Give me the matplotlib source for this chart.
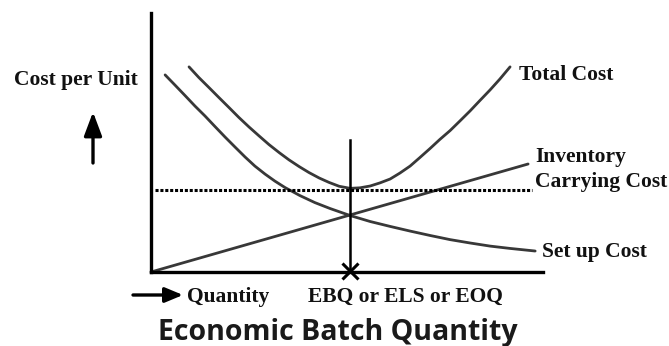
import matplotlib.pyplot as plt
from matplotlib.patches import FancyArrowPatch

# cost curves on a 0-100 quantity / cost scale (schematic)
setup_q = [3.6, 6.1, 8.7, 11.2, 13.8, 16.3, 18.9, 21.4, 24.0, 26.5, 29.1, 31.6, 34.2,
           38.0, 41.8, 45.7, 50.8, 55.9, 61.0, 66.1, 71.2, 76.3, 81.4, 86.5, 91.6, 98.0]
setup_cost = [76.1, 72.2, 68.1, 64.1, 60.2, 56.2, 52.1, 48.3, 44.4, 40.9, 37.8, 35.1, 32.6,
              29.5, 26.8, 24.5, 21.8, 19.5, 17.6, 15.8, 14.1, 12.5, 11.2, 10.0, 9.1, 8.1]

total_q = [9.7, 12.2, 14.8, 17.3, 19.9, 22.4, 25.0, 27.6, 30.1, 32.7, 35.2, 37.8, 40.3,
           42.9, 45.4, 48.0, 50.8, 53.3, 55.9, 58.4, 61.0, 63.5, 66.1, 68.6, 71.2, 73.7,
           76.3, 78.8, 81.4, 83.9, 86.5, 89.0, 91.6]
total_cost = [79.2, 75.1, 71.2, 67.4, 63.5, 59.7, 56.0, 52.5, 49.2, 46.1, 43.3, 40.7, 38.4,
              36.3, 34.6, 33.1, 32.3, 32.5, 33.2, 34.4, 35.9, 38.2, 40.9, 44.2, 47.7, 51.2,
              54.6, 58.3, 62.2, 66.2, 70.3, 74.5, 79.2]

carrying_q = [0.0, 96.2]
carrying_cost = [0.0, 41.7]

ebq = 50.8
ebq_line_top = 51.0
min_cost = 31.7
min_cost_span = [1.0, 97.2]

W, H = 669, 346
fig = plt.figure(figsize=(W / 100, H / 100), dpi=100)
fig.patch.set_facecolor('white')

ax = fig.add_axes([151 / W, 74 / H, 392 / W, 259 / H])
ax.set_xlim(0, 100)
ax.set_ylim(0, 100)
ax.set_xticks([])
ax.set_yticks([])
for side in ['top', 'right']:
    ax.spines[side].set_visible(False)
for side in ['left', 'bottom']:
    ax.spines[side].set_linewidth(2.4)
    ax.spines[side].set_color('black')

curve = dict(color='#383838', linewidth=2.0, solid_capstyle='round',
             solid_joinstyle='round', clip_on=False)
ax.plot(setup_q, setup_cost, **curve)
ax.plot(total_q, total_cost, **curve)
ax.plot(carrying_q, carrying_cost, **curve)

ax.plot(min_cost_span, [min_cost, min_cost], color='black', linewidth=2.2,
        linestyle=(0, (1, 0.6)), clip_on=False)
ax.plot([ebq, ebq], [0, ebq_line_top], color='black', linewidth=1.8, clip_on=False)
ax.plot([ebq], [0.5], marker='x', markersize=11, markeredgewidth=2.2,
        color='black', clip_on=False)

serif = dict(family='Liberation Serif', weight='bold', fontsize=15.5, color='#111111')


def label(x, y, s):
    fig.text(x / W, 1 - y / H, s, va='baseline', ha='left', **serif)


label(14, 85, 'Cost per Unit')
label(519, 80, 'Total Cost')
label(535, 162, 'Inventory')
label(535, 187, 'Carrying Cost')
label(542, 257, 'Set up Cost')
label(187, 302, 'Quantity')
label(308, 302, 'EBQ or ELS or EOQ')

# direction arrows next to the axis names
fig.add_artist(FancyArrowPatch(
    (93 / W, 1 - 163 / H), (93 / W, 1 - 112 / H), transform=fig.transFigure,
    arrowstyle='-|>,head_length=0.8,head_width=0.3', mutation_scale=18,
    color='black', linewidth=2.4, shrinkA=0, shrinkB=0))
fig.add_artist(FancyArrowPatch(
    (133 / W, 1 - 295 / H), (183 / W, 1 - 295 / H), transform=fig.transFigure,
    arrowstyle='-|>,head_length=0.6,head_width=0.25', mutation_scale=18,
    color='black', linewidth=2.4, shrinkA=0, shrinkB=0))

fig.text(338 / W, 1 - 340 / H, 'Economic Batch Quantity', ha='center', va='baseline',
         family='Open Sans', weight='bold', fontsize=20.5, color='#1a1a1a')

fig.savefig('out.png', dpi=100, facecolor='white')
